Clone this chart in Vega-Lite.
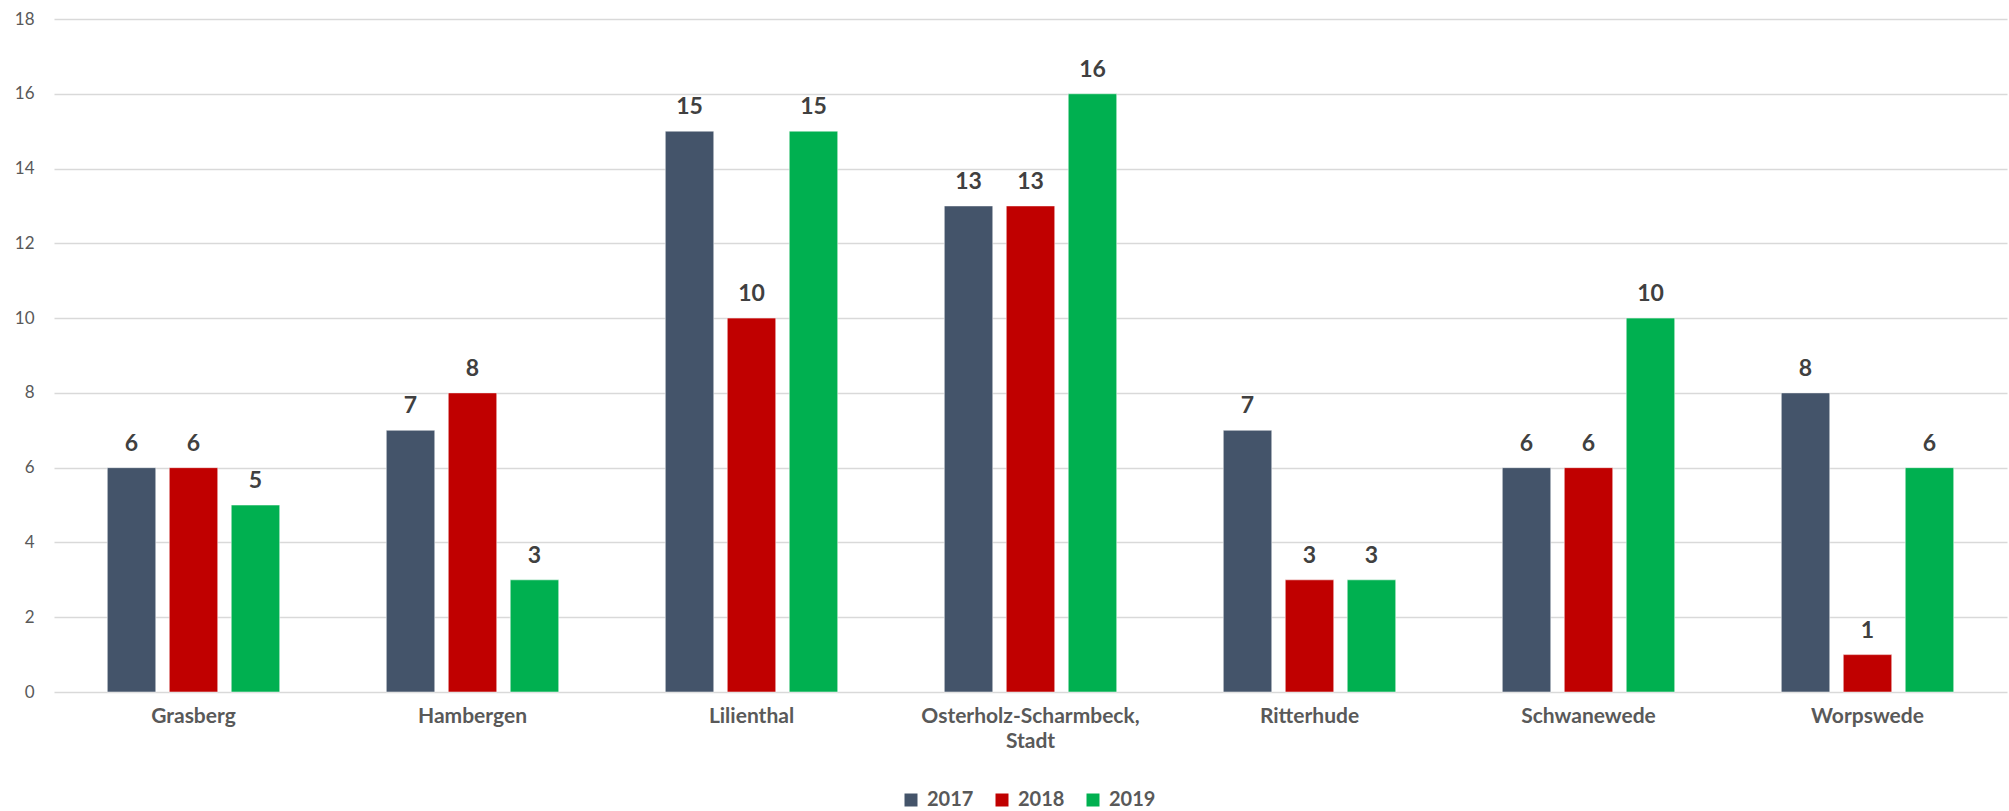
{
  "$schema": "https://vega.github.io/schema/vega-lite/v6.json",
  "width": 1953,
  "height": 673,
  "autosize": {"type": "none"},
  "padding": {"left": 54, "top": 19, "right": 2, "bottom": 119},
  "background": "white",
  "config": {
    "view": {"stroke": null},
    "font": "Lato"
  },
  "data": {
    "values": [
      {"Gemeinde": "Grasberg", "Jahr": "2017", "Wert": 6},
      {"Gemeinde": "Grasberg", "Jahr": "2018", "Wert": 6},
      {"Gemeinde": "Grasberg", "Jahr": "2019", "Wert": 5},
      {"Gemeinde": "Hambergen", "Jahr": "2017", "Wert": 7},
      {"Gemeinde": "Hambergen", "Jahr": "2018", "Wert": 8},
      {"Gemeinde": "Hambergen", "Jahr": "2019", "Wert": 3},
      {"Gemeinde": "Lilienthal", "Jahr": "2017", "Wert": 15},
      {"Gemeinde": "Lilienthal", "Jahr": "2018", "Wert": 10},
      {"Gemeinde": "Lilienthal", "Jahr": "2019", "Wert": 15},
      {"Gemeinde": "Osterholz-Scharmbeck, Stadt", "Jahr": "2017", "Wert": 13},
      {"Gemeinde": "Osterholz-Scharmbeck, Stadt", "Jahr": "2018", "Wert": 13},
      {"Gemeinde": "Osterholz-Scharmbeck, Stadt", "Jahr": "2019", "Wert": 16},
      {"Gemeinde": "Ritterhude", "Jahr": "2017", "Wert": 7},
      {"Gemeinde": "Ritterhude", "Jahr": "2018", "Wert": 3},
      {"Gemeinde": "Ritterhude", "Jahr": "2019", "Wert": 3},
      {"Gemeinde": "Schwanewede", "Jahr": "2017", "Wert": 6},
      {"Gemeinde": "Schwanewede", "Jahr": "2018", "Wert": 6},
      {"Gemeinde": "Schwanewede", "Jahr": "2019", "Wert": 10},
      {"Gemeinde": "Worpswede", "Jahr": "2017", "Wert": 8},
      {"Gemeinde": "Worpswede", "Jahr": "2018", "Wert": 1},
      {"Gemeinde": "Worpswede", "Jahr": "2019", "Wert": 6}
    ]
  },
  "encoding": {
    "x": {
      "field": "Gemeinde",
      "type": "nominal",
      "sort": null,
      "title": null,
      "scale": {"paddingInner": 0.382, "paddingOuter": 0.191},
      "axis": {
        "domain": false,
        "ticks": false,
        "labelAngle": 0,
        "labelFont": "Lato",
        "labelFontSize": 21,
        "labelFontWeight": "bold",
        "labelColor": "#595959",
        "labelPadding": 13,
        "labelLineHeight": 25,
        "labelLimit": 0,
        "labelExpr": "datum.label == 'Osterholz-Scharmbeck, Stadt' ? ['Osterholz-Scharmbeck,', 'Stadt'] : datum.label"
      }
    },
    "xOffset": {
      "field": "Jahr",
      "type": "nominal",
      "scale": {"paddingInner": 0.218, "paddingOuter": 0}
    },
    "y": {
      "field": "Wert",
      "type": "quantitative",
      "title": null,
      "scale": {"domain": [0, 18], "nice": false},
      "axis": {
        "values": [0, 2, 4, 6, 8, 10, 12, 14, 16, 18],
        "domain": false,
        "ticks": false,
        "grid": true,
        "gridColor": "#D9D9D9",
        "gridWidth": 1.5,
        "labelFont": "Lato",
        "labelFontSize": 17,
        "labelColor": "#595959",
        "labelPadding": 20
      }
    },
    "color": {
      "field": "Jahr",
      "type": "nominal",
      "title": null,
      "scale": {"domain": ["2017", "2018", "2019"], "range": ["#44546A", "#C00000", "#00B050"]},
      "legend": {
        "orient": "none",
        "direction": "horizontal",
        "legendX": 847,
        "legendY": 771,
        "symbolType": "square",
        "symbolSize": 169,
        "symbolStrokeWidth": 0,
        "labelFont": "Lato",
        "labelFontSize": 20,
        "labelFontWeight": "bold",
        "labelColor": "#595959",
        "labelOffset": 6,
        "columnPadding": 18
      }
    }
  },
  "layer": [
    {"mark": {"type": "bar", "stroke": "#ffffff", "strokeWidth": 0.5}},
    {
      "mark": {
        "type": "text",
        "baseline": "alphabetic",
        "dy": -17,
        "font": "Lato",
        "fontSize": 23,
        "fontWeight": "bold",
        "color": "#404040"
      },
      "encoding": {
        "text": {"field": "Wert", "type": "quantitative"},
        "color": {"value": "#404040"}
      }
    }
  ]
}
